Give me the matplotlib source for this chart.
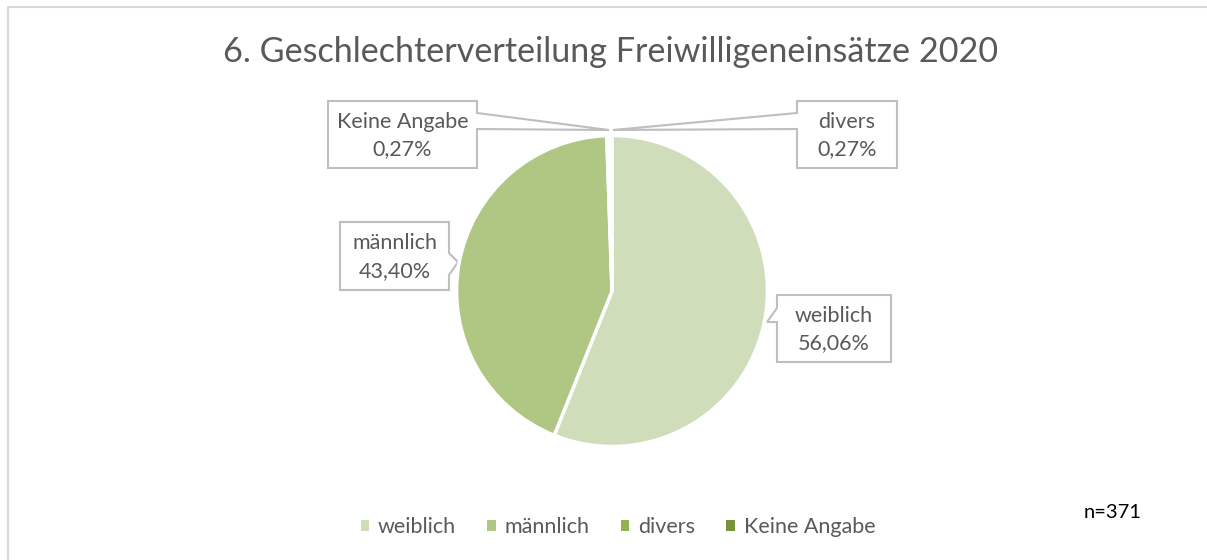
import matplotlib
matplotlib.use('Agg')
import matplotlib.pyplot as plt
from matplotlib.patches import Polygon, Patch

plt.rcParams['font.family'] = ['Lato', 'DejaVu Sans']

categories = ['weiblich', 'männlich', 'divers', 'Keine Angabe']
counts = [208, 161, 1, 1]
colors = ['#CFDDBB', '#B0C784', '#93B353', '#76933C']
title = '6. Geschlechterverteilung Freiwilligeneinsätze 2020'
n_label = 'n=371'

TXT = '#595959'
BOX = '#BFBFBF'
W, H = 1207, 560

fig = plt.figure(figsize=(W / 100, H / 100), dpi=100)

# background axes in pixel coords (for frame, title, callouts)
bg = fig.add_axes([0, 0, 1, 1])
bg.set_xlim(0, W)
bg.set_ylim(H, 0)
bg.axis('off')
bg.plot([8, 8, W + 5], [H + 5, 7, 7], color='#D9D9D9', lw=1.5)

bg.text(611, 52, title, ha='center', va='center', fontsize=24.6, color=TXT)
bg.text(1113, 512, n_label, ha='center', va='center', fontsize=14.5, color='black')

# pie
cx, cy, r = 612, 291, 157
ax = fig.add_axes([(cx - r) / W, (H - cy - r) / H, 2 * r / W, 2 * r / H])
ax.pie(counts, colors=colors, startangle=90, counterclock=False,
       wedgeprops=dict(edgecolor='white', linewidth=2.5))
ax.set_xlim(-1.01, 1.01)
ax.set_ylim(-1.01, 1.01)
ax.set_aspect('equal')

total = sum(counts)
pcts = [c / total * 100 for c in counts]


def fmt(p):
    return ('%.2f%%' % p).replace('.', ',')


# callout boxes: (x0, y0, x1, y1), pointer side points and tip
callouts = [
    # weiblich
    dict(box=(777, 295, 891, 362), side='left', a=308, b=322, tip=(767, 322)),
    # maennlich
    dict(box=(340, 222, 449, 290), side='right', a=253, b=275, tip=(458, 262)),
    # divers
    dict(box=(797, 101, 897, 168), side='left', a=113, b=129, tip=(613, 130)),
    # keine angabe
    dict(box=(328, 101, 477, 168), side='right', a=113, b=129, tip=(609, 130)),
]

for cat, p, co in zip(categories, pcts, callouts):
    x0, y0, x1, y1 = co['box']
    tx, ty = co['tip']
    if co['side'] == 'left':
        pts = [(x0, y0), (x1, y0), (x1, y1), (x0, y1), (x0, co['b']), (tx, ty), (x0, co['a'])]
    else:
        pts = [(x0, y0), (x1, y0), (x1, co['a']), (tx, ty), (x1, co['b']), (x1, y1), (x0, y1)]
    bg.add_patch(Polygon(pts, closed=True, facecolor='white', edgecolor=BOX, lw=1.5))
    bg.text((x0 + x1) / 2, (y0 + y1) / 2 + 1, cat + '\n' + fmt(p), ha='center', va='center',
            fontsize=15.5, color=TXT, linespacing=1.45)

handles = [Patch(facecolor=c, edgecolor='none') for c in colors]
fig.legend(handles, categories, loc='center', bbox_to_anchor=(618 / W, 1 - 527 / H),
           ncol=4, frameon=False, fontsize=15.5, handlelength=0.4, handleheight=0.4,
           handletextpad=0.4, columnspacing=1.45, labelcolor=TXT)

plt.savefig('out.png', dpi=100)
